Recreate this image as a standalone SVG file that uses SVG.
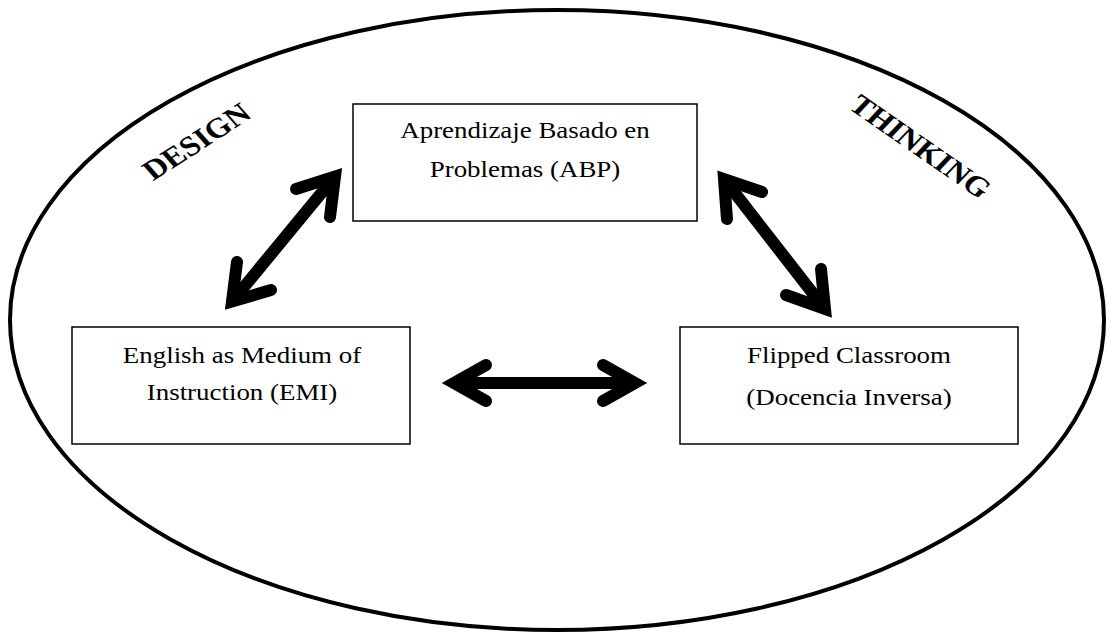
<svg xmlns="http://www.w3.org/2000/svg" width="1114" height="633" viewBox="0 0 1114 633">
<style>
.box{fill:#fff;stroke:#000;stroke-width:1.5}
.lbl{font-family:"Liberation Serif","Times New Roman",serif;font-size:23px;fill:#000;text-anchor:middle}
.big{font-family:"Liberation Serif","Times New Roman",serif;font-size:28px;font-weight:bold;fill:#000;text-anchor:middle}
.arr{fill:none;stroke:#000;stroke-width:12;stroke-linecap:round;stroke-linejoin:miter;stroke-miterlimit:10}
.shaft{fill:none;stroke:#000;stroke-width:12;stroke-linecap:butt}
</style>
<rect width="1114" height="633" fill="#fff"/>
<ellipse id="frame" cx="557" cy="320" rx="547" ry="310" fill="none" stroke="#000" stroke-width="4"/>
<g id="design"><text class="big" transform="translate(196,141) scale(1.17,1) rotate(-37)" x="0" y="10">DESIGN</text></g>
<g id="thinking"><text class="big" transform="translate(921,146) scale(1.17,1) rotate(39)" x="0" y="10">THINKING</text></g>
<g id="abp">
<rect class="box" x="353" y="104" width="344" height="117"/>
<text class="lbl" transform="translate(525,138) scale(1.17,1)">Aprendizaje Basado en</text>
<text class="lbl" transform="translate(525,177) scale(1.17,1)">Problemas (ABP)</text>
</g>
<g id="emi">
<rect class="box" x="72" y="327" width="338" height="117"/>
<text class="lbl" transform="translate(242,363) scale(1.17,1)">English as Medium of</text>
<text class="lbl" transform="translate(242,400) scale(1.17,1)">Instruction (EMI)</text>
</g>
<g id="flipped">
<rect class="box" x="680" y="327" width="338" height="117"/>
<text class="lbl" transform="translate(849,363) scale(1.17,1)">Flipped Classroom</text>
<text class="lbl" transform="translate(849,405) scale(1.17,1)">(Docencia Inversa)</text>
</g>
<g id="connectors">
<line class="shaft" x1="232" y1="301.5" x2="335" y2="176.5"/>
<polyline class="arr" points="330,217 335,176.5 296,189"/>
<polyline class="arr" points="271,290 232,301.5 237,262"/>
<line class="shaft" x1="724" y1="179" x2="825" y2="309"/>
<polyline class="arr" points="762,192 724,179 727,219"/>
<polyline class="arr" points="786,295 825,309 821,269"/>
<line class="shaft" x1="454" y1="383" x2="635" y2="383"/>
<polyline class="arr" points="486,365 454,383 486,401"/>
<polyline class="arr" points="603,365 635,383 603,401"/>
</g>
</svg>
